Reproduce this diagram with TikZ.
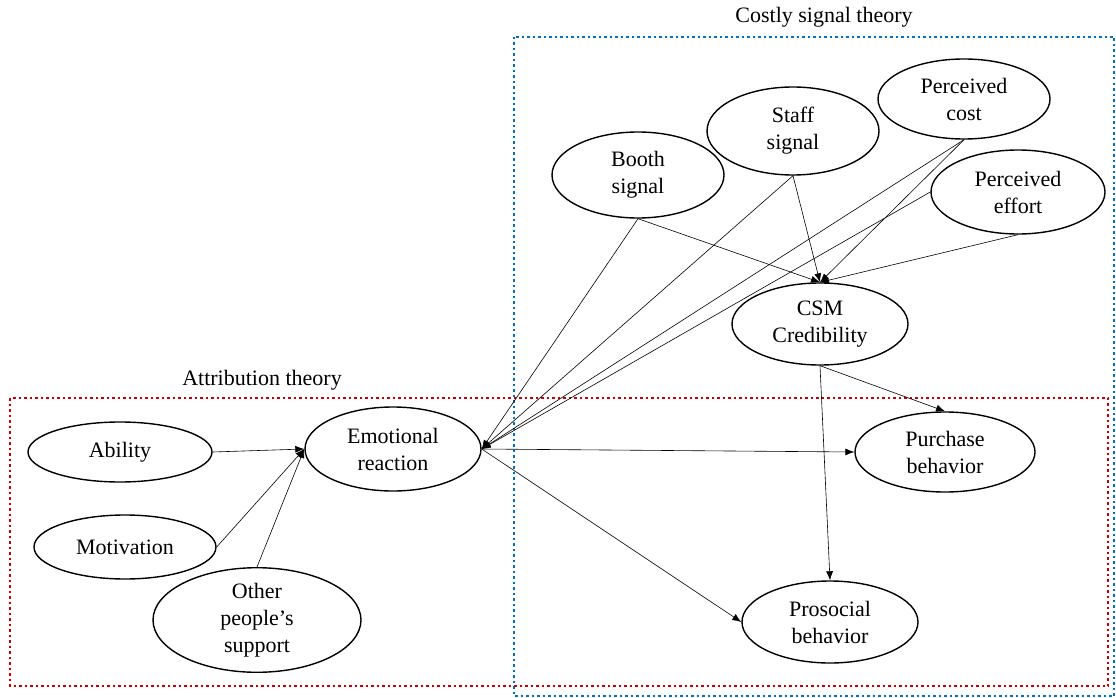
\documentclass[tikz,border=0pt]{standalone}
\usepackage{fontspec}
\setmainfont{Liberation Serif}
\usetikzlibrary{shapes.geometric,arrows.meta}
\definecolor{boxblue}{RGB}{0,112,192}
\definecolor{boxred}{RGB}{200,0,0}
\tikzset{
    oval-node/.style = {draw=black, fill=white, ellipse, line width=1.4pt, inner sep=0pt, align=center, font=\fontsize{22}{27}\selectfont},
    theory-box/.style = {dash pattern=on 2.5pt off 3pt, line width=2.5pt},
    theory-title/.style = {font=\fontsize{22}{27}\selectfont},
    path-arrow/.style = {-{Latex[length=9pt,width=7pt]}, line width=0.6pt},
}

\begin{document}
\begin{tikzpicture}[x=1pt, y=-1pt]
\useasboundingbox (0,0) rectangle (1116,698);
\draw[theory-box, boxblue] (514,37) rectangle (1114,696);
\draw[theory-box, boxred] (10,398) rectangle (1108,686);
\node[theory-title] (costly-title) at (824,17) {Costly signal theory};
\node[theory-title] (attrib-title) at (262,380) {Attribution theory};

\node[oval-node, minimum width=184pt, minimum height=60pt] (ability) at (120,452) {Ability};
\node[oval-node, minimum width=182pt, minimum height=64pt] (motivation) at (125,547) {Motivation};
\node[oval-node, minimum width=208pt, minimum height=90pt] (support) at (257,620) {Other\\people’s\\support};
\node[oval-node, minimum width=176pt, minimum height=84pt] (emotion) at (393,449) {Emotional\\reaction};
\node[oval-node, minimum width=172pt, minimum height=86pt] (booth) at (638,175) {Booth\\signal};
\node[oval-node, minimum width=172pt, minimum height=88pt] (staff) at (793,131) {Staff\\signal};
\node[oval-node, minimum width=172pt, minimum height=80pt] (cost) at (964,99) {Perceived\\cost};
\node[oval-node, minimum width=174pt, minimum height=84pt] (effort) at (1018,192) {Perceived\\effort};
\node[oval-node, minimum width=176pt, minimum height=82pt] (csm) at (820,324) {CSM\\Credibility};
\node[oval-node, minimum width=180pt, minimum height=80pt] (purchase) at (945,452) {Purchase\\behavior};
\node[oval-node, minimum width=176pt, minimum height=82pt] (prosocial) at (830,622) {Prosocial\\behavior};

\draw[path-arrow] (ability.east) -- (emotion.west);
\draw[path-arrow] (motivation.east) -- (emotion.west);
\draw[path-arrow] (support.north) -- (emotion.west);
\draw[path-arrow] (booth.south) -- (emotion.east);
\draw[path-arrow] (staff.south) -- (emotion.east);
\draw[path-arrow] (cost.south) -- (emotion.east);
\draw[path-arrow] (effort.west) -- (emotion.east);
\draw[path-arrow] (booth.south) -- (csm.north);
\draw[path-arrow] (staff.south) -- (csm.north);
\draw[path-arrow] (cost.south) -- (csm.north);
\draw[path-arrow] (effort.south) -- (csm.north);
\draw[path-arrow] (csm.south) -- (purchase.north);
\draw[path-arrow] (csm.south) -- (prosocial.north);
\draw[path-arrow] (emotion.east) -- (purchase.west);
\draw[path-arrow] (emotion.east) -- (prosocial.west);
\end{tikzpicture}
\end{document}
